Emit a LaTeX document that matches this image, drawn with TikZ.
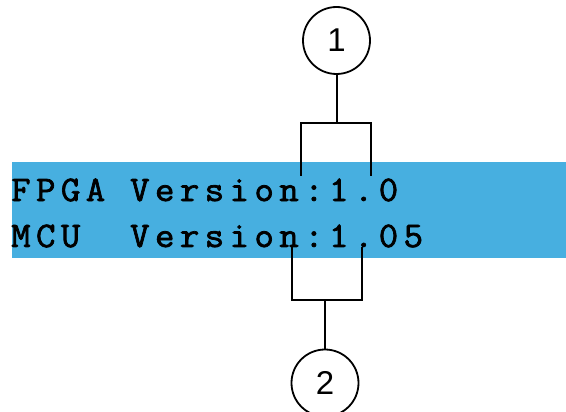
\documentclass[tikz,border=0pt]{standalone}
\usepackage{fontspec}
\newfontfamily\lcdfont{Latin Modern Mono}[LetterSpace=15,FakeStretch=1.05,FakeBold=2]
\newfontfamily\tagfont{Liberation Sans}
\definecolor{lcdblue}{RGB}{71,175,224}

\begin{document}
\begin{tikzpicture}[x=1pt,y=-1pt,
		lcdrow/.style={anchor=base west,inner sep=0pt,font=\lcdfont\fontsize{36}{36}\selectfont},
		tag/.style={draw,circle,line width=1.8pt,minimum size=67pt,inner sep=0pt,font=\tagfont\fontsize{33}{33}\selectfont},
		bracket/.style={line width=2pt}]
	\clip (0,0) rectangle (566,412);
	\fill[lcdblue] (12,162) rectangle (566,258);
	\node[lcdrow] (fpga) at (11,201) {FPGA Version:1.0};
	\node[lcdrow] (mcu) at (11,247) {MCU\ \ Version:1.05};
	\node[tag] (one) at (336.5,40.5) {1};
	\node[tag] (two) at (325,383) {2};
	\coordinate (upl) at (301,176);
	\coordinate (upr) at (371,176);
	\coordinate (upj) at (336.5,123);
	\coordinate (lol) at (292,247);
	\coordinate (lor) at (362,247);
	\coordinate (loj) at (325,300);
	\draw[bracket] (one) -- (upj);
	\draw[bracket] (upl) |- (upj) -| (upr);
	\draw[bracket] (two) -- (loj);
	\draw[bracket] (lol) |- (loj) -| (lor);
\end{tikzpicture}
\end{document}
